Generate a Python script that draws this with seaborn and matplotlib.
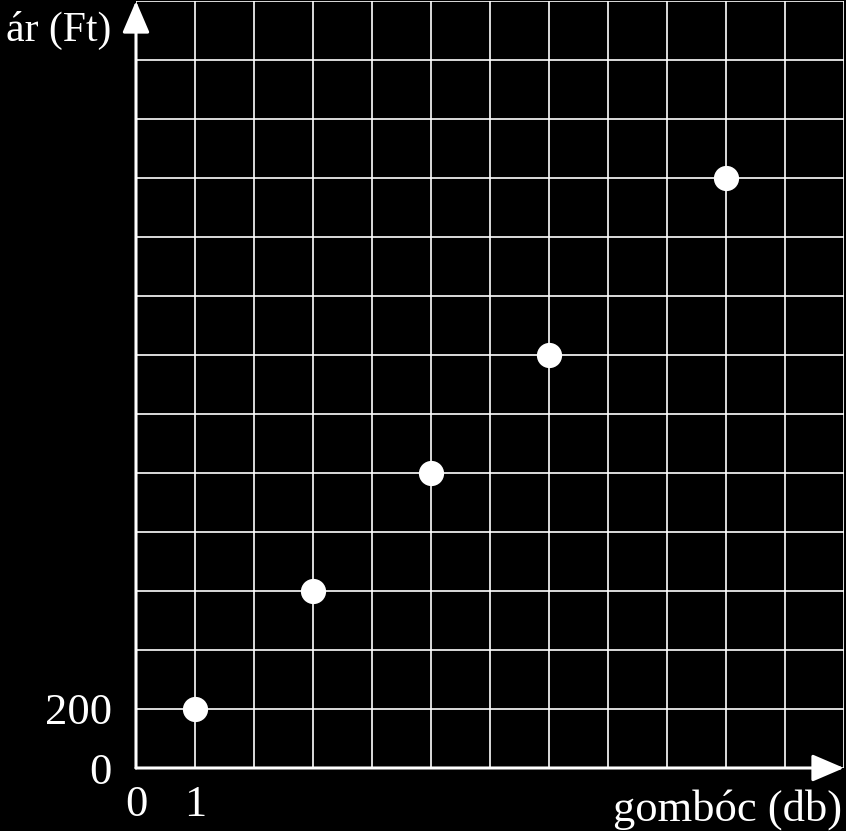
import matplotlib
matplotlib.use("Agg")
import matplotlib.pyplot as plt
import seaborn as sns
import pandas as pd

# adatok
gomboc = [1, 3, 5, 7, 10]
ar = [200, 600, 1000, 1400, 2000]
x_ticks = list(range(0, 13))
x_labels = ["0", "1"] + [""] * 11
y_ticks = list(range(0, 2800, 200))
y_labels = ["0", "200"] + [""] * 12

sns.set_style("dark", rc={"axes.facecolor": "black", "figure.facecolor": "black",
                          "grid.color": "white", "text.color": "white",
                          "xtick.color": "white", "ytick.color": "white"})
plt.rcParams["font.family"] = ["Liberation Serif", "DejaVu Serif"]

fig = plt.figure(figsize=(8.46, 8.31), dpi=100)
ax = fig.add_axes([136 / 846, 63 / 831, 708 / 846, 767 / 831])

df = pd.DataFrame({"gomboc": gomboc, "ar": ar})
sns.scatterplot(data=df, x="gomboc", y="ar", color="white", s=330,
                edgecolor="white", linewidth=0, zorder=5, clip_on=False, ax=ax)

ax.set_xlim(0, 12)
ax.set_ylim(0, 2600)
ax.set_xticks(x_ticks)
ax.set_xticklabels(x_labels)
ax.set_yticks(y_ticks)
ax.set_yticklabels(y_labels)
ax.grid(True, color="white", linewidth=1.2)
ax.set_axisbelow(True)
ax.tick_params(direction="inout", length=17, width=1.5, labelsize=32)
ax.tick_params(axis="x", pad=4)
ax.tick_params(axis="y", pad=9)
ax.set_xlabel("")
ax.set_ylabel("")
for s in ax.spines.values():
    s.set_visible(False)

# tengelyek nyilakkal
arrow = dict(arrowstyle="-|>,head_length=1.4,head_width=0.6", mutation_scale=14,
             color="white", linewidth=2.2, shrinkA=0, shrinkB=0)
ax.annotate("", xy=(0, 1.0), xytext=(0, 0), xycoords="axes fraction",
            arrowprops=arrow, annotation_clip=False)
ax.annotate("", xy=(1.0, 0), xytext=(0, 0), xycoords="axes fraction",
            arrowprops=arrow, annotation_clip=False)

fig.text(111 / 846, 1 - 30 / 831, "ár (Ft)", ha="right", va="center", fontsize=30, color="white")
fig.text(842 / 846, 1 - 810 / 831, "gombóc (db)", ha="right", va="center", fontsize=32, color="white")

fig.savefig("out.png", dpi=100, facecolor="black")
